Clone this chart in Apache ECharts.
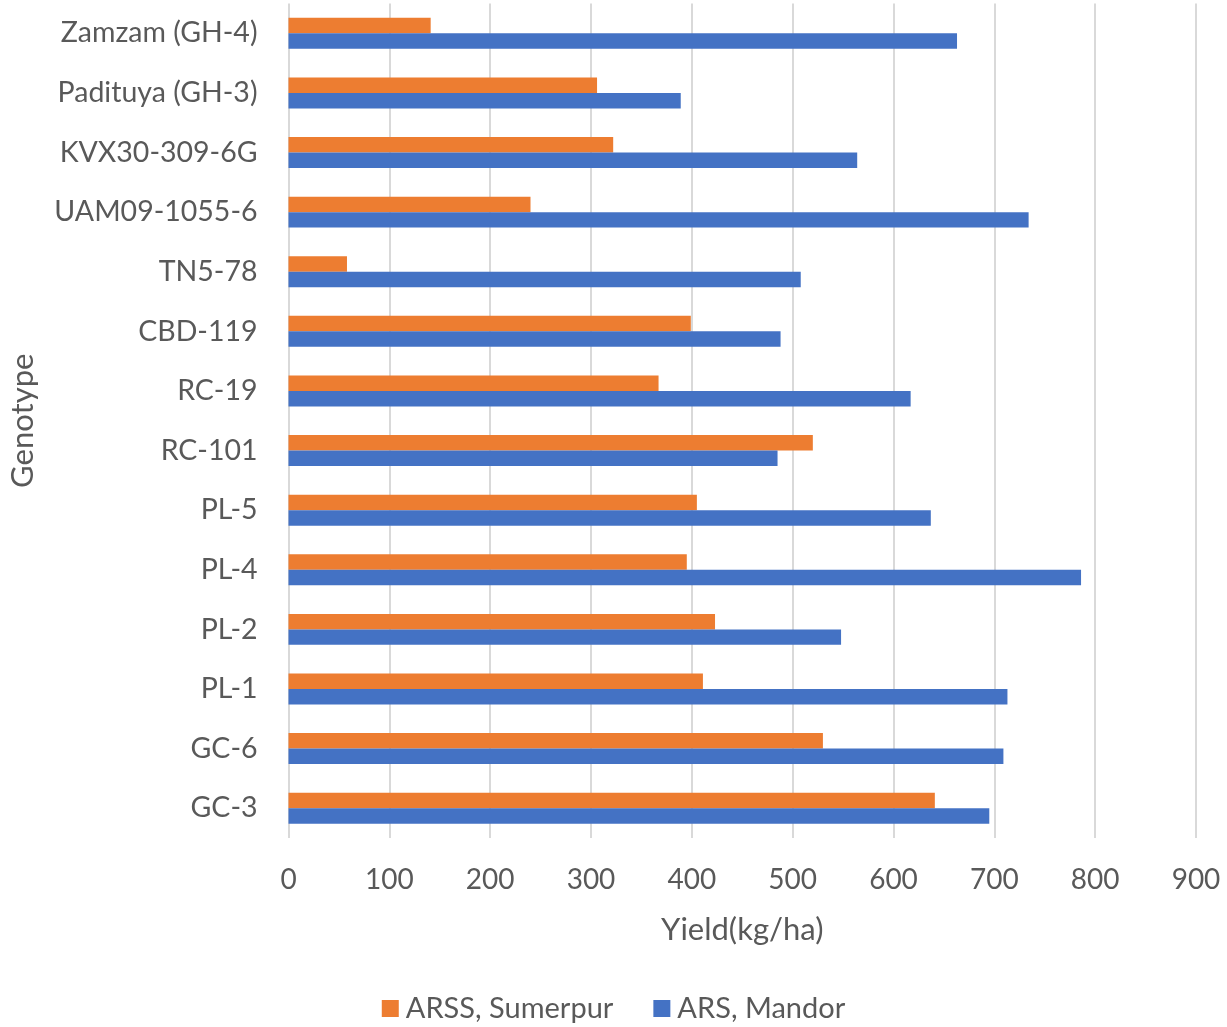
<!DOCTYPE html>
<html>
<head>
<meta charset="utf-8">
<script src="https://cdn.jsdelivr.net/npm/echarts@6/dist/echarts.min.js"></script>
<style>
html,body{margin:0;padding:0;background:#fff;}
#chart{width:1227px;height:1027px;}
</style>
</head>
<body>
<div id="chart"></div>
<script>
const categories = ['GC-3','GC-6','PL-1','PL-2','PL-4','PL-5','RC-101','RC-19','CBD-119','TN5-78','UAM09-1055-6','KVX30-309-6G','Padituya (GH-3)','Zamzam (GH-4)'];
const sumerpur = [641, 530, 411, 423, 395, 405, 520, 367, 399, 58, 240, 322, 306, 141];
const mandor = [695, 709, 713, 548, 786, 637, 485, 617, 488, 508, 734, 564, 389, 663];
const xTicks = {min: 0, max: 900, interval: 100};

const FONT = 'Lato';
const TXT = '#595959';
const chart = echarts.init(document.getElementById('chart'), null, {renderer: 'canvas'});
chart.setOption({
  animation: false,
  backgroundColor: '#ffffff',
  textStyle: {fontFamily: FONT},
  grid: {left: 288.5, right: 31, top: 3.5, bottom: 189, containLabel: false, outerBoundsMode: 'none'},
  legend: {
    data: ['ARSS, Sumerpur', 'ARS, Mandor'],
    left: 'center', top: 989,
    icon: 'rect', itemWidth: 17, itemHeight: 17, itemGap: 40,
    textStyle: {fontFamily: FONT, fontSize: 29, color: TXT, padding: [0, 0, 0, 2]}
  },
  xAxis: {
    type: 'value', min: xTicks.min, max: xTicks.max, interval: xTicks.interval,
    name: 'Yield(kg/ha)', nameLocation: 'middle', nameGap: 76,
    nameTextStyle: {fontFamily: FONT, fontSize: 31, color: TXT},
    axisLine: {show: false}, axisTick: {show: false},
    axisLabel: {fontFamily: FONT, fontSize: 28, color: TXT, margin: 28},
    splitLine: {show: true, lineStyle: {color: '#D9D9D9', width: 2}}
  },
  yAxis: {
    type: 'category', data: categories,
    name: 'Genotype', nameLocation: 'middle', nameGap: 250,
    nameTextStyle: {fontFamily: FONT, fontSize: 31, color: TXT},
    axisLine: {show: false}, axisTick: {show: false},
    axisLabel: {fontFamily: FONT, fontSize: 28.5, color: TXT, margin: 31}
  },
  series: [
    {name: 'ARSS, Sumerpur', type: 'bar', data: sumerpur, itemStyle: {color: '#ED7D31'}, barGap: '0%', barCategoryGap: '48%'},
    {name: 'ARS, Mandor', type: 'bar', data: mandor, itemStyle: {color: '#4472C4'}, barGap: '0%', barCategoryGap: '48%'}
  ]
});
</script>
</body>
</html>
